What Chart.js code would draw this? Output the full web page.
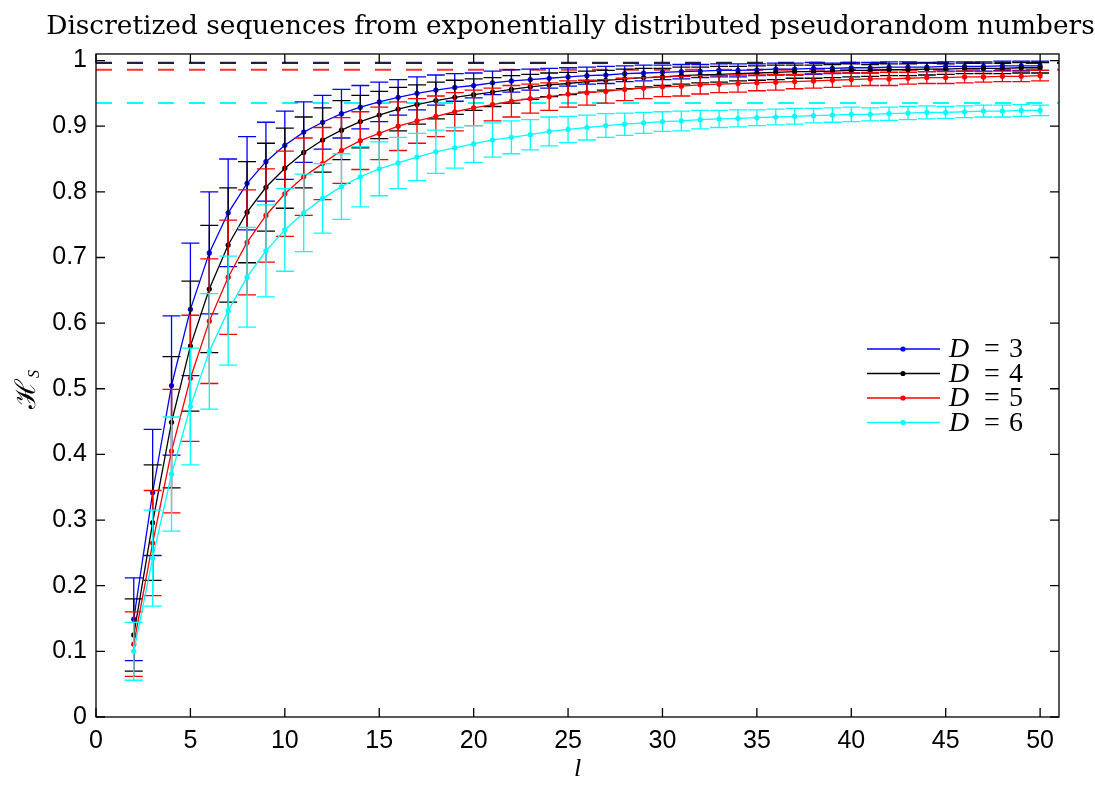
<!DOCTYPE html>
<html>
<head>
<meta charset="utf-8">
<script src="https://cdn.jsdelivr.net/npm/chart.js@4.4.0/dist/chart.umd.min.js"></script>
<style>
  html, body { margin: 0; padding: 0; background: #fff; }
</style>
</head>
<body>
<canvas id="entropyChart" width="1095" height="787"></canvas>
<script>
// sequence length l
const lValues = [2, 3, 4, 5, 6, 7, 8, 9, 10, 11, 12, 13, 14, 15, 16, 17, 18, 19, 20, 21, 22, 23, 24, 25, 26,
    27, 28, 29, 30, 31, 32, 33, 34, 35, 36, 37, 38, 39, 40, 41, 42, 43, 44, 45, 46, 47, 48, 49, 50];

// mean normalized entropy per embedding dimension
const hD3 = [0.149, 0.342, 0.505, 0.621, 0.707, 0.768, 0.813, 0.846, 0.871, 0.891, 0.906, 0.919, 0.929, 0.937,
    0.944, 0.950, 0.955, 0.959, 0.962, 0.966, 0.969, 0.971, 0.973, 0.975, 0.977, 0.978, 0.980, 0.981, 0.982,
    0.983, 0.984, 0.985, 0.985, 0.986, 0.987, 0.987, 0.988, 0.988, 0.989, 0.989, 0.990, 0.990, 0.990, 0.991,
    0.991, 0.991, 0.992, 0.992, 0.992];
const hD4 = [0.125, 0.296, 0.449, 0.565, 0.652, 0.719, 0.769, 0.807, 0.836, 0.860, 0.879, 0.894, 0.907, 0.917,
    0.926, 0.933, 0.939, 0.944, 0.948, 0.952, 0.956, 0.960, 0.963, 0.965, 0.968, 0.970, 0.972, 0.974, 0.975,
    0.977, 0.978, 0.979, 0.980, 0.981, 0.982, 0.983, 0.983, 0.984, 0.985, 0.985, 0.986, 0.986, 0.987, 0.987,
    0.988, 0.988, 0.988, 0.989, 0.989];
const hD5 = [0.111, 0.265, 0.405, 0.516, 0.603, 0.670, 0.723, 0.764, 0.797, 0.823, 0.843, 0.863, 0.878, 0.889,
    0.900, 0.908, 0.915, 0.922, 0.928, 0.933, 0.938, 0.942, 0.945, 0.949, 0.951, 0.953, 0.956, 0.958, 0.960,
    0.961, 0.963, 0.964, 0.965, 0.966, 0.967, 0.968, 0.969, 0.970, 0.971, 0.972, 0.972, 0.973, 0.974, 0.974,
    0.975, 0.975, 0.976, 0.976, 0.977];
const hD6 = [0.100, 0.242, 0.370, 0.473, 0.557, 0.619, 0.670, 0.710, 0.742, 0.768, 0.790, 0.808, 0.823, 0.835,
    0.844, 0.853, 0.861, 0.867, 0.873, 0.879, 0.883, 0.887, 0.892, 0.895, 0.898, 0.901, 0.903, 0.905, 0.907,
    0.908, 0.910, 0.911, 0.912, 0.913, 0.914, 0.915, 0.916, 0.917, 0.918, 0.918, 0.919, 0.920, 0.921, 0.921,
    0.922, 0.923, 0.923, 0.924, 0.924];

// standard deviations (error bar half heights)
const errD3 = [0.063, 0.096, 0.106, 0.101, 0.093, 0.082, 0.071, 0.060, 0.052, 0.046, 0.041, 0.037, 0.033, 0.030,
    0.027, 0.025, 0.023, 0.021, 0.019, 0.018, 0.017, 0.016, 0.015, 0.014, 0.013, 0.013, 0.012, 0.012, 0.011,
    0.011, 0.010, 0.010, 0.010, 0.009, 0.009, 0.009, 0.009, 0.008, 0.008, 0.008, 0.008, 0.008, 0.007, 0.007,
    0.007, 0.007, 0.007, 0.007, 0.007];
const errD4 = [0.055, 0.088, 0.100, 0.099, 0.097, 0.087, 0.077, 0.067, 0.061, 0.054, 0.049, 0.045, 0.040, 0.036,
    0.033, 0.030, 0.028, 0.026, 0.024, 0.022, 0.021, 0.019, 0.018, 0.017, 0.016, 0.015, 0.015, 0.014, 0.013,
    0.013, 0.012, 0.012, 0.011, 0.011, 0.011, 0.010, 0.010, 0.010, 0.010, 0.009, 0.009, 0.009, 0.009, 0.008,
    0.008, 0.008, 0.008, 0.008, 0.008];
const errD5 = [0.049, 0.080, 0.094, 0.096, 0.095, 0.087, 0.080, 0.071, 0.065, 0.059, 0.055, 0.050, 0.044, 0.040,
    0.037, 0.034, 0.031, 0.029, 0.027, 0.025, 0.024, 0.022, 0.021, 0.020, 0.019, 0.018, 0.017, 0.016, 0.015,
    0.015, 0.014, 0.013, 0.013, 0.012, 0.012, 0.011, 0.011, 0.011, 0.010, 0.010, 0.010, 0.009, 0.009, 0.009,
    0.009, 0.008, 0.008, 0.008, 0.008];
const errD6 = [0.044, 0.073, 0.087, 0.089, 0.088, 0.083, 0.076, 0.070, 0.063, 0.059, 0.053, 0.050, 0.046, 0.041,
    0.039, 0.036, 0.033, 0.031, 0.028, 0.026, 0.025, 0.023, 0.022, 0.020, 0.019, 0.018, 0.017, 0.016, 0.015,
    0.015, 0.014, 0.013, 0.013, 0.012, 0.012, 0.012, 0.011, 0.011, 0.011, 0.010, 0.010, 0.010, 0.010, 0.009,
    0.009, 0.009, 0.009, 0.009, 0.008];

// dashed reference levels
const asymptoteX = [0, 51];
const asymD3 = 0.9968;
const asymD4 = 0.9962;
const asymD5 = 0.986;
const asymD6 = 0.9355;

const dimLabels = ['D = 3', 'D = 4', 'D = 5', 'D = 6'];
const xTicks = [0, 5, 10, 15, 20, 25, 30, 35, 40, 45, 50];
const yTicks = [0, 0.1, 0.2, 0.3, 0.4, 0.5, 0.6, 0.7, 0.8, 0.9, 1];

const toPoints = (ys) => lValues.map((l, i) => ({ x: l, y: ys[i] }));
const flatLine = (level) => asymptoteX.map(x => ({ x: x, y: level }));

function seriesDataset(label, ys, errs, color, order) {
    return {
        label: label,
        data: toPoints(ys),
        errors: errs,
        inLegend: true,
        borderColor: color,
        backgroundColor: color,
        borderWidth: 1.3,
        pointRadius: 2.6,
        pointBorderWidth: 0,
        pointBackgroundColor: color,
        tension: 0,
        order: order
    };
}

function dashedDataset(level, color, order) {
    return {
        data: flatLine(level),
        borderColor: color,
        borderWidth: 2,
        borderDash: [16, 15],
        pointRadius: 0,
        tension: 0,
        order: order
    };
}

// error bars drawn just beneath their own series line
const errorBarPlugin = {
    id: 'errorBars',
    beforeDatasetDraw(chart, args) {
        const ds = chart.data.datasets[args.index];
        if (!ds.errors) return;
        const { ctx, scales: { x, y } } = chart;
        ctx.save();
        ctx.strokeStyle = ds.borderColor;
        ctx.lineWidth = 1.3;
        ds.data.forEach((p, i) => {
            const e = ds.errors[i];
            const px = x.getPixelForValue(p.x);
            const top = y.getPixelForValue(p.y + e);
            const bot = y.getPixelForValue(p.y - e);
            ctx.beginPath();
            ctx.moveTo(px, top);
            ctx.lineTo(px, bot);
            ctx.moveTo(px - 9, top);
            ctx.lineTo(px + 9, top);
            ctx.moveTo(px - 9, bot);
            ctx.lineTo(px + 9, bot);
            ctx.stroke();
        });
        ctx.restore();
    }
};

// box around the axes with inward ticks on all four sides
const axesBoxPlugin = {
    id: 'axesBox',
    afterDatasetsDraw(chart) {
        const { ctx, chartArea: a, scales: { x, y } } = chart;
        ctx.save();
        ctx.strokeStyle = '#000';
        ctx.lineWidth = 1.3;
        ctx.strokeRect(a.left, a.top, a.right - a.left, a.bottom - a.top);
        ctx.beginPath();
        xTicks.forEach(v => {
            const px = x.getPixelForValue(v);
            ctx.moveTo(px, a.bottom);
            ctx.lineTo(px, a.bottom - 9);
            ctx.moveTo(px, a.top);
            ctx.lineTo(px, a.top + 9);
        });
        yTicks.forEach(v => {
            const py = y.getPixelForValue(v);
            ctx.moveTo(a.left, py);
            ctx.lineTo(a.left + 9, py);
            ctx.moveTo(a.right, py);
            ctx.lineTo(a.right - 9, py);
        });
        ctx.stroke();
        ctx.restore();
    }
};

// legend inside the axes and the y label with its subscript
const insetLegendPlugin = {
    id: 'insetLegend',
    afterDraw(chart) {
        const { ctx } = chart;
        const entries = chart.data.datasets.filter(d => d.inLegend);
        ctx.save();
        entries.forEach((d, i) => {
            const cy = 349 + i * 24.5;
            ctx.strokeStyle = d.borderColor;
            ctx.lineWidth = 1.3;
            ctx.beginPath();
            ctx.moveTo(867, cy);
            ctx.lineTo(940, cy);
            ctx.stroke();
            ctx.fillStyle = d.borderColor;
            ctx.beginPath();
            ctx.arc(903, cy, 2.6, 0, Math.PI * 2);
            ctx.fill();

            const parts = d.label.split(' = ');
            ctx.fillStyle = '#000';
            ctx.textBaseline = 'middle';
            ctx.textAlign = 'left';
            ctx.font = 'italic 28px "Liberation Serif", serif';
            ctx.fillText(parts[0], 949, cy + 1);
            ctx.font = '28px "Liberation Serif", serif';
            ctx.fillText('=', 984, cy + 1);
            ctx.fillText(parts[1], 1009, cy + 1);
        });

        ctx.translate(27, 383);
        ctx.rotate(-Math.PI / 2);
        ctx.fillStyle = '#000';
        ctx.textBaseline = 'alphabetic';
        ctx.textAlign = 'right';
        ctx.font = '28px "DejaVu Serif", serif';
        ctx.fillText('\u210B', 4, 8);
        ctx.textAlign = 'left';
        ctx.font = 'italic 16px "Liberation Serif", serif';
        ctx.fillText('S', 5, 12);
        ctx.restore();
    }
};

const ctx = document.getElementById('entropyChart').getContext('2d');
new Chart(ctx, {
    type: 'line',
    data: {
        datasets: [
            seriesDataset(dimLabels[0], hD3, errD3, '#0000ff', 4),
            seriesDataset(dimLabels[1], hD4, errD4, '#000000', 3),
            seriesDataset(dimLabels[2], hD5, errD5, '#ff0000', 2),
            seriesDataset(dimLabels[3], hD6, errD6, '#00ffff', 1),
            dashedDataset(asymD3, '#1010c0', 8),
            dashedDataset(asymD4, '#202040', 7),
            dashedDataset(asymD5, '#ff3030', 6),
            dashedDataset(asymD6, '#00ffff', 5)
        ]
    },
    options: {
        responsive: false,
        animation: false,
        layout: { padding: { left: 46, right: 0, top: 0, bottom: 0 } },
        plugins: {
            legend: { display: false },
            tooltip: { enabled: false },
            title: {
                display: true,
                text: 'Discretized sequences from exponentially distributed pseudorandom numbers',
                color: '#000',
                font: { family: '"DejaVu Serif", serif', size: 26.4, weight: 'normal', lineHeight: 1.2 },
                padding: { top: 11.3, bottom: 11 }
            }
        },
        scales: {
            x: {
                type: 'linear',
                min: 0,
                max: 51,
                afterBuildTicks: (s) => { s.ticks = xTicks.map(v => ({ value: v })); },
                afterFit: (s) => { s.height = 70; },
                grid: { display: false, drawTicks: false },
                border: { display: false },
                ticks: {
                    color: '#000',
                    padding: 9,
                    maxRotation: 0,
                    autoSkip: false,
                    font: { family: '"Liberation Sans", Arial, sans-serif', size: 25 },
                    callback: (v) => String(v)
                },
                title: {
                    display: true,
                    text: 'l',
                    color: '#000',
                    font: { family: '"Liberation Serif", serif', size: 26, style: 'italic' },
                    padding: { top: 0, bottom: 2 }
                }
            },
            y: {
                type: 'linear',
                min: 0,
                max: 1.01,
                afterBuildTicks: (s) => { s.ticks = yTicks.map(v => ({ value: v })); },
                afterFit: (s) => { s.width = 50; },
                grid: { display: false, drawTicks: false },
                border: { display: false },
                ticks: {
                    color: '#000',
                    padding: 9,
                    autoSkip: false,
                    font: { family: '"Liberation Sans", Arial, sans-serif', size: 25 },
                    callback: (v) => String(v)
                }
            },
            // empty right-hand axis that only reserves the margin
            yMargin: {
                type: 'linear',
                position: 'right',
                min: 0,
                max: 1.01,
                afterFit: (s) => { s.width = 36; },
                grid: { display: false, drawTicks: false },
                border: { display: false },
                ticks: { display: false }
            }
        }
    },
    plugins: [errorBarPlugin, axesBoxPlugin, insetLegendPlugin]
});
</script>
</body>
</html>
